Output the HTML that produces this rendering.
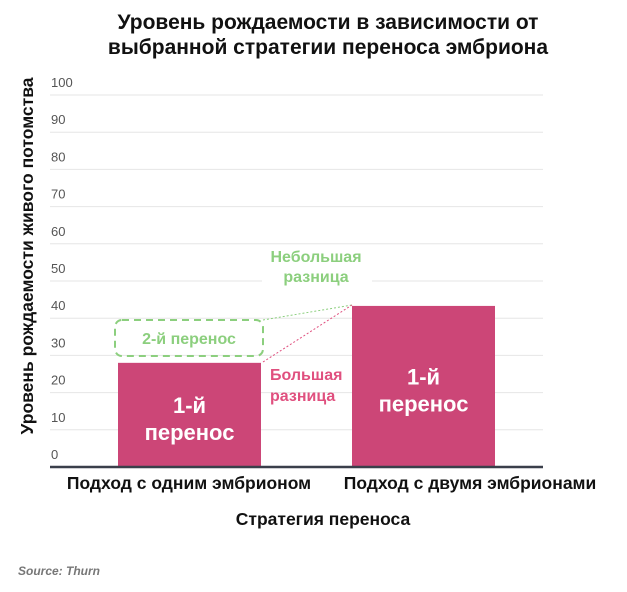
<!DOCTYPE html>
<html><head><meta charset="utf-8"><style>
body{margin:0;background:#fff;font-family:"Liberation Sans","DejaVu Sans",sans-serif;}
svg text{font-family:"Liberation Sans","DejaVu Sans",sans-serif;}
</style></head><body>
<svg id="c" width="627" height="587">
<text x="328" y="29" text-anchor="middle" font-size="21" font-weight="bold" fill="#111">Уровень рождаемости в зависимости от</text>
<text x="328" y="54" text-anchor="middle" font-size="21" font-weight="bold" fill="#111">выбранной стратегии переноса эмбриона</text>
<text transform="translate(33,256) rotate(-90)" text-anchor="middle" font-size="17.5" font-weight="bold" fill="#111">Уровень рождаемости живого потомства</text>
<text x="323" y="525" text-anchor="middle" font-size="17.5" font-weight="bold" fill="#111">Стратегия переноса</text>
<text x="18" y="575" font-size="12" font-style="italic" font-weight="bold" fill="#777">Source: Thurn</text>
<g id="grid"></g><g id="bars"></g>
<line x1="50" y1="467" x2="543" y2="467" stroke="#3a3f4a" stroke-width="2.5"/>
<rect x="115" y="320" width="148" height="36" rx="7" fill="none" stroke="#8ccf7e" stroke-width="2" stroke-dasharray="7,5"/>
<text x="189" y="344" text-anchor="middle" font-size="16" font-weight="bold" fill="#8ccf7e">2-й перенос</text>
<line x1="263" y1="320" x2="352" y2="305" stroke="#8ccf7e" stroke-width="1" stroke-dasharray="2,2"/>
<line x1="263" y1="362" x2="352" y2="305" stroke="#e0507f" stroke-width="1" stroke-dasharray="2,2"/>
<rect x="262" y="248" width="110" height="44" fill="#fff"/>
<text x="316" y="262" text-anchor="middle" font-size="16" font-weight="bold" fill="#8ccf7e"><tspan x="316">Небольшая</tspan><tspan x="316" dy="20">разница</tspan></text>
<text x="270" y="380" font-size="16" font-weight="bold" fill="#e0507f"><tspan x="270">Большая</tspan><tspan x="270" dy="21">разница</tspan></text>
</svg>
<script>
const ticks=[0,10,20,30,40,50,60,70,80,90,100];
const categories=["Подход с одним эмбрионом","Подход с двумя эмбрионами"];
const values=[28,43.3];
const NS="http://www.w3.org/2000/svg";
const y=v=>467-v*3.72;
const bx=[118,352],bw=143,lx=[189,470];
const g=document.getElementById('grid'),b=document.getElementById('bars');
function mk(tag,a,p){const e=document.createElementNS(NS,tag);for(const k in a)e.setAttribute(k,a[k]);p.appendChild(e);return e;}
ticks.forEach(t=>{
 if(t>0){const l=mk('line',{x1:50,x2:543,y1:y(t),y2:y(t),stroke:'#e6e6e6','stroke-width':1},g);
 
 }
 const tx=mk('text',{x:51,y:y(t)-8,'font-size':13,fill:'#555'},g);tx.textContent=t;
 
 
});
values.forEach((v,i)=>{
 const r=mk('rect',{x:bx[i],y:y(v),width:bw,height:467-y(v),fill:'#cc4677'},b);
 
 
 const cx=bx[i]+bw/2;
 const t=mk('text',{x:cx,y:(y(v)+467)/2-2,'text-anchor':'middle','font-size':22,'font-weight':'bold',fill:'#fff'},b);
 t.innerHTML='<tspan x="'+cx+'">1-й</tspan><tspan x="'+cx+'" dy="27">перенос</tspan>';
 
 
 const c=mk('text',{x:lx[i],y:489,'text-anchor':'middle','font-size':17.5,'font-weight':'bold',fill:'#111'},b);c.textContent=categories[i];
 
 
});
</script>
</body></html>
